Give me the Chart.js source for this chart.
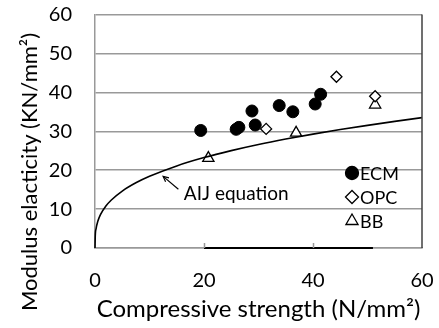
<!DOCTYPE html>
<html>
<head>
<meta charset="utf-8">
<script src="https://cdn.jsdelivr.net/npm/chart.js@4.4.1/dist/chart.umd.min.js"></script>
<style>
html,body{margin:0;padding:0;background:#fff;overflow:hidden;}
canvas{display:block;}
</style>
</head>
<body>
<canvas id="c" width="439" height="328"></canvas>
<script>
const FONT='Lato, "Open Sans", sans-serif';
const GRID='#999999';

// compressive strength (N/mm2) vs modulus (kN/mm2)
const ecmX=[19.4,25.9,26.4,28.8,29.4,33.8,36.3,40.4,41.4];
const ecmY=[30.2,30.5,31.0,35.2,31.6,36.6,35.0,37.0,39.5];
const opcX=[31.4,44.3,51.4];
const opcY=[30.6,44.0,39.0];
const bbX=[20.8,36.9,51.4];
const bbY=[23.1,29.6,36.8];
// AIJ equation curve, sampled along x
const aijX=[0,0.05,0.2,0.5,1,2,3,5,7.5,10,15,20,25,30,35,40,45,50,55,60];
const aijY=[0,3.15,5.0,6.79,8.56,10.78,12.34,14.63,16.75,18.43,21.10,23.23,25.02,26.59,27.99,29.27,30.44,31.52,32.54,33.5];
// dark stroke lying on the x axis
const baseX=[20,51];
const baseY=[0,0];
// annotation arrow (tail -> tip) and label anchor
const arrowX=[15.3,12.5];
const arrowY=[15.1,18.4];
const noteXY=[16.3,13.8];
const xTickMarks=[20,40];

const pts=(xs,ys)=>xs.map((x,i)=>({x,y:ys[i]}));

const legendItems=[
  {label:'ECM',style:'circle',radius:6.5,fill:'#000'},
  {label:'OPC',style:'rectRot',radius:6.5,fill:'#fff'},
  {label:'BB',style:'triangle',radius:7,fill:'#fff'}
];

const overlay={
  id:'overlay',
  afterDatasetsDraw(chart){
    const {ctx,chartArea:a,scales:{x}}=chart;
    ctx.save();
    // short inward tick marks on the x axis
    ctx.strokeStyle=GRID;ctx.lineWidth=1.5;
    xTickMarks.forEach(v=>{
      const px=Math.round(x.getPixelForValue(v))+0.5;
      ctx.beginPath();ctx.moveTo(px,a.bottom);ctx.lineTo(px,a.bottom-5);ctx.stroke();
    });
    // right frame edge
    ctx.strokeStyle='#404040';
    ctx.beginPath();ctx.moveTo(a.right,a.top);ctx.lineTo(a.right,a.bottom);ctx.stroke();
    ctx.restore();
  },
  afterDraw(chart){
    const {ctx,chartArea:a,scales:{x,y}}=chart;
    ctx.save();
    // y axis title
    ctx.fillStyle='#000';
    ctx.font='22px '+FONT;
    ctx.textAlign='center';ctx.textBaseline='middle';
    ctx.translate(30,172);ctx.rotate(-Math.PI/2);
    ctx.fillText('Modulus elacticity (KN/mm\u00b2)',0,0);
    ctx.restore();

    // arrow + label for the curve
    ctx.save();
    const x1=x.getPixelForValue(arrowX[0]),y1=y.getPixelForValue(arrowY[0]);
    const x2=x.getPixelForValue(arrowX[1]),y2=y.getPixelForValue(arrowY[1]);
    ctx.strokeStyle='#000';ctx.lineWidth=1.2;
    ctx.beginPath();ctx.moveTo(x1,y1);ctx.lineTo(x2,y2);ctx.stroke();
    const ang=Math.atan2(y2-y1,x2-x1);
    ctx.beginPath();
    ctx.moveTo(x2-6*Math.cos(ang-0.45),y2-6*Math.sin(ang-0.45));
    ctx.lineTo(x2,y2);
    ctx.lineTo(x2-6*Math.cos(ang+0.45),y2-6*Math.sin(ang+0.45));
    ctx.stroke();
    ctx.fillStyle='#000';
    ctx.font='19px '+FONT;
    ctx.textAlign='left';ctx.textBaseline='middle';
    ctx.fillText('AIJ equation',x.getPixelForValue(noteXY[0]),y.getPixelForValue(noteXY[1]));

    // legend inside the plot
    const lx=a.right-70;
    legendItems.forEach((it,i)=>{
      const ly=a.bottom-75+i*24;
      ctx.fillStyle=it.fill;ctx.strokeStyle='#000';ctx.lineWidth=1.3;
      Chart.helpers.drawPoint(ctx,{pointStyle:it.style,radius:it.radius,borderWidth:1.3,rotation:0},lx,ly);
      ctx.fillStyle='#000';
      ctx.font='18px '+FONT;
      ctx.textAlign='left';ctx.textBaseline='middle';
      ctx.fillText(it.label,lx+8,ly+1);
    });
    ctx.restore();
  }
};

new Chart(document.getElementById('c'),{
  type:'scatter',
  data:{datasets:[
    {label:'AIJ',data:pts(aijX,aijY),showLine:true,fill:false,borderColor:'#000',backgroundColor:'transparent',
     borderWidth:1.6,pointRadius:0,cubicInterpolationMode:'monotone',clip:false},
    {label:'base',data:pts(baseX,baseY),showLine:true,fill:false,borderColor:'#000',backgroundColor:'transparent',
     borderWidth:2,pointRadius:0,clip:false},
    {label:'ECM',data:pts(ecmX,ecmY),showLine:false,fill:false,pointStyle:'circle',pointRadius:6,
     pointBackgroundColor:'#000',pointBorderColor:'#000',pointBorderWidth:1,backgroundColor:'transparent'},
    {label:'OPC',data:pts(opcX,opcY),showLine:false,fill:false,pointStyle:'rectRot',pointRadius:5.5,
     pointBackgroundColor:'#fff',pointBorderColor:'#000',pointBorderWidth:1.3,backgroundColor:'transparent'},
    {label:'BB',data:pts(bbX,bbY),showLine:false,fill:false,pointStyle:'triangle',pointRadius:6.5,
     pointBackgroundColor:'#fff',pointBorderColor:'#000',pointBorderWidth:1.3,backgroundColor:'transparent'}
  ]},
  options:{
    responsive:false,animation:false,
    layout:{padding:{top:14.5,right:17,left:0,bottom:0}},
    plugins:{legend:{display:false},tooltip:{enabled:false}},
    scales:{
      x:{
        type:'linear',min:0,max:60,
        afterFit:s=>{s.height=80;s.paddingLeft=0;s.paddingRight=0;},
        ticks:{stepSize:20,color:'#000',font:{family:FONT,size:20},padding:21,maxRotation:0},
        grid:{drawTicks:false,drawOnChartArea:false},
        border:{color:GRID,width:1.5},
        title:{display:true,text:'Compressive strength (N/mm\u00b2)',color:'#000',
          font:{family:FONT,size:24},padding:{top:0,bottom:4}}
      },
      y:{
        type:'linear',min:0,max:60,
        afterFit:s=>{s.width=95;s.paddingTop=0;s.paddingBottom=0;},
        ticks:{stepSize:10,color:'#000',font:{family:FONT,size:20},padding:23},
        grid:{color:GRID,lineWidth:1.5,drawTicks:false},
        border:{color:GRID,width:1.5}
      }
    }
  },
  plugins:[overlay]
});
</script>
</body>
</html>
